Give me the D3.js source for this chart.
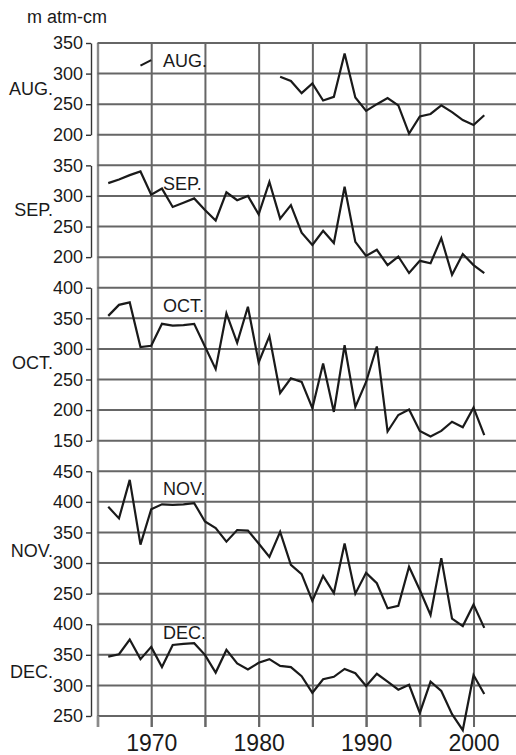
<!DOCTYPE html>
<html>
<head>
<meta charset="utf-8">
<script src="https://cdn.jsdelivr.net/npm/d3@7"></script>
<style>
  body { margin: 0; background: #fff; }
  text { font-family: "Liberation Sans", Arial, sans-serif; fill: #1a1a1a; }
</style>
</head>
<body>
<div id="chart"></div>
<script>
// years on the x axis
var years = [1966, 1967, 1968, 1969, 1970, 1971, 1972, 1973, 1974, 1975,
             1976, 1977, 1978, 1979, 1980, 1981, 1982, 1983, 1984, 1985,
             1986, 1987, 1988, 1989, 1990, 1991, 1992, 1993, 1994, 1995,
             1996, 1997, 1998, 1999, 2000, 2001];

var months = ["AUG.", "SEP.", "OCT.", "NOV.", "DEC."];

// monthly mean total ozone, m atm-cm (null = no data)
var aug = [null, null, null, 313, 322, null, null, null, null, null,
           null, null, null, null, null, null, 295, 288, 268, 284,
           256, 262, 333, 261, 239, 250, 260, 248, 202, 230,
           234, 248, 237, 224, 216, 232];
var sep = [321, 327, 334, 340, 302, 312, 282, 289, 296, 277,
           260, 306, 293, 300, 270, 323, 263, 285, 240, 220,
           243, 223, 315, 225, 202, 212, 187, 201, 174, 194,
           190, 231, 171, 205, 187, 174];
var oct = [354, 372, 376, 303, 305, 341, 338, 339, 341, 304,
           267, 358, 310, 369, 278, 321, 228, 252, 246, 203,
           276, 197, 306, 205, 246, 304, 165, 192, 201, 166,
           157, 166, 181, 172, 204, 159];
var nov = [392, 373, 436, 330, 388, 396, 395, 396, 398, 368,
           357, 335, 354, 353, 332, 310, 351, 297, 282, 238,
           279, 251, 332, 250, 284, 267, 226, 230, 294, 256,
           215, 308, 209, 197, 232, 194];
var dec = [347, 351, 375, 343, 363, 330, 366, 368, 369, 350,
           321, 358, 336, 326, 337, 343, 332, 330, 315, 288,
           310, 314, 327, 320, 299, 319, 306, 293, 301, 255,
           306, 291, 253, 227, 317, 286];

var series = [aug, sep, oct, nov, dec];

// tick labels of each panel, top to bottom
var augTicks = [350, 300, 250, 200];
var sepTicks = [350, 300, 250, 200];
var octTicks = [400, 350, 300, 250, 200, 150];
var novTicks = [450, 400, 350, 300, 250];
var decTicks = [400, 350, 300, 250];
var panelTicks = [augTicks, sepTicks, octTicks, novTicks, decTicks];

var xTicks = [1965, 1970, 1975, 1980, 1985, 1990, 1995, 2000];

// layout
var W = 516, H = 755;
var plotLeft = 97.5, plotRight = 516.5, plotTop = 43, plotBottom = 716;
var axisX = 91;
var nRows = d3.sum(panelTicks, function(t) { return t.length; }) - 1;
var step = (plotBottom - plotTop) / nRows;
// left month label (value in panel units) and in-plot label offset from panel top
var sideLabelAt = [276, 277, 277, 320, 322];
var innerLabelDy = [24, 25, 24, 24, 15];

var gridColor = "#666", gridWidth = 2;

var svg = d3.select("#chart")
  .append("svg")
    .attr("width", W)
    .attr("height", H);

var x = d3.scaleLinear()
  .domain([1965, 2004])
  .range([plotLeft, plotRight]);

var gridLayer = svg.append("g");
var lineLayer = svg.append("g");

// vertical grid lines: an axis whose ticks run down through the plot
var vgrid = gridLayer.append("g")
  .attr("transform", "translate(0," + plotTop + ")")
  .call(d3.axisTop(x)
    .tickValues(xTicks)
    .tickSize(-(plotBottom - plotTop + 11))
    .tickSizeOuter(0)
    .tickFormat(""));
vgrid.select(".domain").remove();
vgrid.selectAll("line")
  .attr("stroke", function(d) { return d === 1965 ? "#8a8a8a" : gridColor; })
  .attr("stroke-width", function(d) { return d === 1965 ? 2.4 : gridWidth; });

var row = 0;
panelTicks.forEach(function(ticks, i) {
  var y0 = plotTop + row * step;
  var y1 = plotTop + (row + ticks.length - 1) * step;
  row += ticks.length;

  var y = d3.scaleLinear()
    .domain([ticks[0], ticks[ticks.length - 1]])
    .range([y0, y1]);

  // horizontal grid lines as one path per panel
  gridLayer.append("path")
    .attr("d", ticks.map(function(t) {
      return "M" + plotLeft + "," + y(t) + "H" + plotRight;
    }).join(""))
    .attr("fill", "none")
    .attr("stroke", gridColor)
    .attr("stroke-width", gridWidth);

  // y axis segment
  var ax = svg.append("g")
    .attr("transform", "translate(" + axisX + ",0)")
    .call(d3.axisLeft(y).tickValues(ticks).tickSize(5).tickSizeOuter(0).tickPadding(3));
  ax.selectAll("path, line").attr("stroke", "#333").attr("stroke-width", 1.4);
  ax.selectAll("text")
    .style("font-size", "18px")
    .style("font-family", "Liberation Sans, Arial, sans-serif")
    .attr("fill", "#1a1a1a");

  // month label left of the axis
  svg.append("text")
    .attr("x", 53)
    .attr("y", y(sideLabelAt[i]))
    .attr("dy", "0.35em")
    .style("text-anchor", "end")
    .style("font-size", "18px")
    .text(months[i]);

  // month label inside the panel
  svg.append("text")
    .attr("x", x(1971.1))
    .attr("y", y0 + innerLabelDy[i])
    .style("font-size", "18px")
    .text(months[i]);

  var line = d3.line()
    .defined(function(d) { return d !== null; })
    .x(function(d, j) { return x(years[j]); })
    .y(function(d) { return y(d); });

  lineLayer.append("path")
    .datum(series[i])
    .attr("d", line)
    .attr("fill", "none")
    .attr("stroke", "#1a1a1a")
    .attr("stroke-width", 2.2)
    .attr("stroke-linejoin", "miter");
});

lineLayer.raise();

// x axis labels along the bottom
var xa = svg.append("g")
  .attr("transform", "translate(0," + plotBottom + ")")
  .call(d3.axisBottom(x)
    .tickValues(xTicks)
    .tickSize(11)
    .tickSizeOuter(0)
    .tickPadding(8)
    .tickFormat(function(d) { return d % 10 === 0 ? d : ""; }));
xa.select(".domain").remove();
xa.selectAll("line")
  .attr("stroke", function(d) { return d === 1965 ? "#8a8a8a" : gridColor; })
  .attr("stroke-width", function(d) { return d === 1965 ? 2.4 : gridWidth; });
xa.selectAll("text")
  .style("font-size", "23px")
  .style("font-family", "Liberation Sans, Arial, sans-serif")
  .attr("fill", "#1a1a1a");

// unit
svg.append("text")
  .attr("x", 27)
  .attr("y", 23)
  .style("font-size", "18px")
  .text("m atm-cm");
</script>
</body>
</html>
